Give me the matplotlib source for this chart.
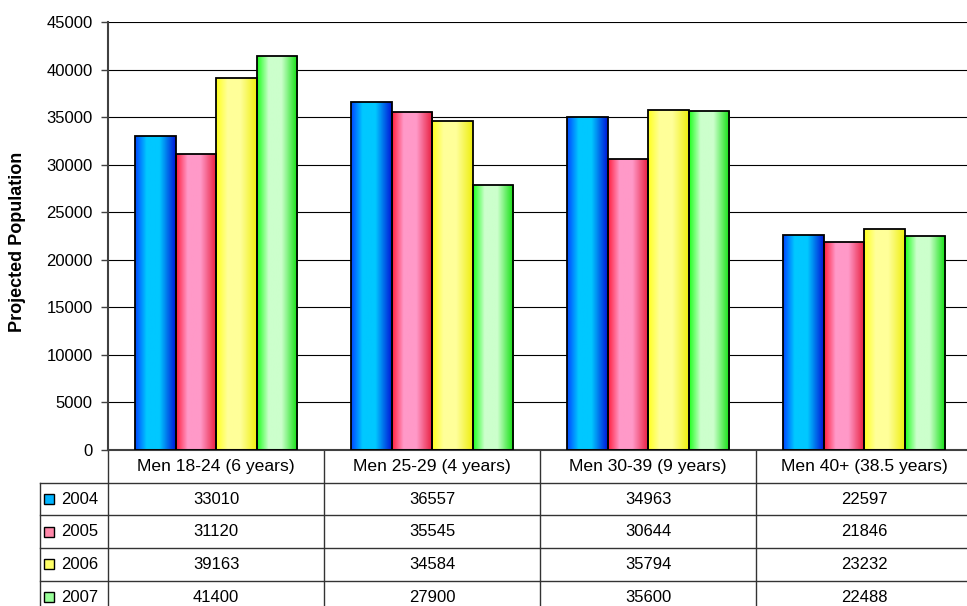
#!/usr/bin/env python3
"""Projected population bar chart with an Excel-style data table underneath."""
import matplotlib
matplotlib.use("Agg")
import matplotlib.pyplot as plt
import matplotlib.transforms as mtransforms
from matplotlib.colors import LinearSegmentedColormap
from matplotlib.patches import Rectangle
import numpy as np

CATEGORIES = ["Men 18-24 (6 years)", "Men 25-29 (4 years)",
              "Men 30-39 (9 years)", "Men 40+ (38.5 years)"]
YEARS = ["2004", "2005", "2006", "2007"]
V2004 = [33010, 36557, 34963, 22597]
V2005 = [31120, 35545, 30644, 21846]
V2006 = [39163, 34584, 35794, 23232]
V2007 = [41400, 27900, 35600, 22488]
SERIES = [V2004, V2005, V2006, V2007]
Y_TICKS = list(range(0, 45001, 5000))

# left edge, light middle, right edge of each bar's shading
GRADIENTS = [
    ("#0048ff", "#00c8ff", "#0018d8"),
    ("#ff2040", "#ff99c8", "#e81c3c"),
    ("#ffff20", "#ffff99", "#eeee10"),
    ("#20ff20", "#ccffcc", "#10e010"),
]
SWATCH = ["#00b4ff", "#ff88aa", "#ffff66", "#99ff99"]

W, H = 967, 606
plt.rcParams["font.family"] = ["Liberation Sans", "DejaVu Sans"]
FS = 12

fig = plt.figure(figsize=(W / 100, H / 100), dpi=100)
ax_left, ax_top, ax_bottom, ax_right = 108, 22, 450, 972
ax = fig.add_axes([ax_left / W, 1 - ax_bottom / H,
                   (ax_right - ax_left) / W, (ax_bottom - ax_top) / H])

n = len(SERIES)
bar_w = 0.75 / n
x = np.arange(len(CATEGORIES)) + 0.5
for i, (values, stops) in enumerate(zip(SERIES, GRADIENTS)):
    offs = (i - (n - 1) / 2) * bar_w
    bars = ax.bar(x + offs, values, width=bar_w, facecolor="none",
                  edgecolor="black", linewidth=1.3, zorder=3)
    cmap = LinearSegmentedColormap.from_list(
        f"g{i}", [(0, stops[0]), (0.28, stops[1]), (0.6, stops[1]), (1, stops[2])])
    grad = np.linspace(0, 1, 64).reshape(1, -1)
    for bar in bars:
        im = ax.imshow(grad, cmap=cmap, aspect="auto", zorder=2,
                       extent=(bar.get_x(), bar.get_x() + bar.get_width(),
                               0, bar.get_height()))
        im.set_clip_path(bar)

ax.set_xlim(0, len(CATEGORIES))
ax.set_ylim(0, 45000)
ax.set_yticks(Y_TICKS)
ax.set_xticks([])
ax.yaxis.grid(True, color="black", linewidth=0.8)
ax.set_axisbelow(True)
for side in ("top", "right"):
    ax.spines[side].set_visible(False)
ax.spines["left"].set_color("#404040")
ax.spines["left"].set_linewidth(1.5)
ax.spines["bottom"].set_color("#404040")
ax.spines["bottom"].set_linewidth(1.5)
ax.tick_params(axis="y", length=5, width=1, color="#404040",
               labelsize=FS, pad=6)
ax.set_ylabel("Projected Population", fontsize=13, fontweight="bold")
ax.yaxis.set_label_coords(-82 / (ax_right - ax_left), 0.486)

# data table below the plot
blend = mtransforms.blended_transform_factory(ax.transData, fig.transFigure)
line_kw = dict(transform=blend, clip_on=False, color="#333333", linewidth=1)
row_h = 32.7
row_edges = [ax_bottom + k * row_h for k in range(6)]
label_x = -(ax_left - 40) / (ax_right - ax_left) * len(CATEGORIES)

for k in range(len(CATEGORIES) + 1):
    ax.plot([k, k], [1 - ax_bottom / H, 0], **line_kw)
ax.plot([label_x, label_x], [1 - row_edges[1] / H, 0], **line_kw)
for edge in row_edges[1:]:
    ax.plot([label_x, len(CATEGORIES)], [1 - edge / H] * 2, **line_kw)

for k, cat in enumerate(CATEGORIES):
    ax.text(k + 0.5, 1 - (row_edges[0] + row_h / 2) / H, cat, transform=blend,
            ha="center", va="center", fontsize=12.6)

for r, (year, values, sw) in enumerate(zip(YEARS, SERIES, SWATCH)):
    yc = row_edges[r + 1] + row_h / 2
    fig.add_artist(Rectangle((44 / W, 1 - (yc + 5) / H), 10 / W, 10 / H,
                             transform=fig.transFigure, facecolor=sw,
                             edgecolor="black", linewidth=1))
    fig.text(61 / W, 1 - yc / H, year, ha="left", va="center", fontsize=FS)
    for k, v in enumerate(values):
        ax.text(k + 0.5, 1 - yc / H, str(v), transform=blend,
                ha="center", va="center", fontsize=FS)

fig.savefig("out.png", dpi=100)
